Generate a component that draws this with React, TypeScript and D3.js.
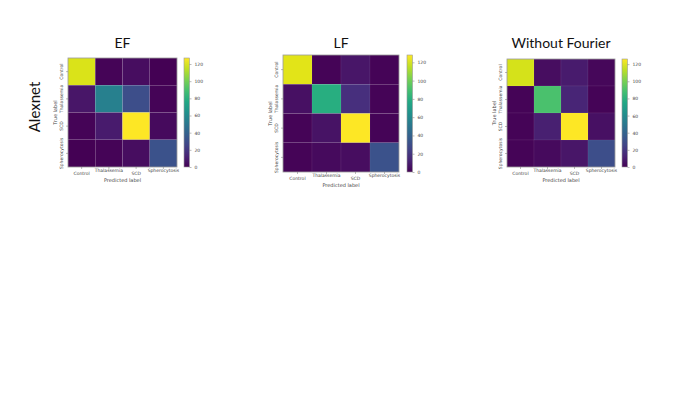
import React, { useEffect, useRef } from 'react';
import * as d3 from 'd3';

const classes = ['Control', 'Thalassemia', 'SCD', 'Spherocytosis'];
const panelTitles = ['EF', 'LF', 'Without Fourier'];
const rowLabel = 'Alexnet';
const colorbarTicks = [0, 20, 40, 60, 80, 100, 120];

// confusion matrices, rows = true label, cols = predicted label
const efMatrix = [
  [120, 1, 4, 0],
  [7, 55, 30, 1],
  [1, 9, 127, 3],
  [0, 1, 4, 32],
];
const lfMatrix = [
  [122, 1, 7, 1],
  [5, 80, 17, 1],
  [1, 6, 128, 1],
  [1, 3, 4, 32],
];
const woMatrix = [
  [118, 4, 9, 2],
  [1, 90, 13, 1],
  [1, 11, 126, 5],
  [1, 3, 7, 30],
];
const matrices = [efMatrix, lfMatrix, woMatrix];

// layout of each panel: heatmap box + colorbar
const panels = [
  { x: 68, y: 58, w: 109, h: 109, cbx: 184, titleY: 48 },
  { x: 283, y: 55, w: 116, h: 117, cbx: 407, titleY: 48 },
  { x: 507, y: 59, w: 108, h: 108, cbx: 622, titleY: 48 },
];

const App = () => {
  const svgRef = useRef<SVGSVGElement>(null);

  useEffect(() => {
    const svg = d3.select(svgRef.current);
    svg.selectAll('*').remove();
    const tickFont = 'DejaVu Sans, sans-serif';

    svg.append('text')
      .attr('transform', 'translate(40,107) rotate(-90)')
      .attr('text-anchor', 'middle')
      .attr('font-family', 'Lato, sans-serif')
      .attr('font-size', 15)
      .attr('fill', '#111')
      .text(rowLabel);

    panels.forEach((p, i) => {
      const m = matrices[i];
      const vmax = d3.max(m.flat()) as number;
      const color = d3.scaleSequential(d3.interpolateViridis).domain([0, vmax]);
      const xs = d3.scaleBand().domain(classes).range([p.x, p.x + p.w]);
      const ys = d3.scaleBand().domain(classes).range([p.y, p.y + p.h]);
      const g = svg.append('g');

      g.append('text')
        .attr('x', p.x + p.w / 2)
        .attr('y', p.titleY)
        .attr('text-anchor', 'middle')
        .attr('font-family', 'Lato, sans-serif')
        .attr('font-size', 14)
        .attr('fill', '#111')
        .text(panelTitles[i]);

      const cells = m.flatMap((row, r) => row.map((v, c) => ({ r, c, v })));
      g.selectAll('rect.cell')
        .data(cells)
        .enter().append('rect')
        .attr('class', 'cell')
        .attr('x', d => xs(classes[d.c])!)
        .attr('y', d => ys(classes[d.r])!)
        .attr('width', xs.bandwidth())
        .attr('height', ys.bandwidth())
        .attr('fill', d => color(d.v))
        .attr('stroke', 'rgba(255,255,255,0.1)')
        .attr('stroke-width', 0.6);

      g.append('rect')
        .attr('x', p.x).attr('y', p.y)
        .attr('width', p.w).attr('height', p.h)
        .attr('fill', 'none')
        .attr('stroke', '#9a9a9a')
        .attr('stroke-width', 0.8);

      // x tick labels
      const xAxis = g.append('g')
        .attr('transform', `translate(0,${p.y + p.h})`)
        .call(d3.axisBottom(xs).tickSize(2).tickPadding(2));
      xAxis.select('.domain').remove();
      xAxis.selectAll('line').attr('stroke', '#777').attr('stroke-width', 0.5);
      xAxis.selectAll('text')
        .attr('font-family', tickFont)
        .attr('font-size', 4.5)
        .attr('fill', '#444')
        .attr('dy', (_d, k) => (k % 2 === 1 ? '0.3em' : '0.9em'));

      // y tick labels (rotated)
      const yAxis = g.append('g')
        .attr('transform', `translate(${p.x},0)`)
        .call(d3.axisLeft(ys).tickSize(2).tickPadding(2));
      yAxis.select('.domain').remove();
      yAxis.selectAll('line').attr('stroke', '#777').attr('stroke-width', 0.5);
      yAxis.selectAll('text')
        .attr('font-family', tickFont)
        .attr('font-size', 4.5)
        .attr('fill', '#444')
        .attr('x', 0).attr('y', 0).attr('dy', 0)
        .attr('text-anchor', 'middle')
        .attr('transform', 'translate(-5,0) rotate(-90)');

      g.append('text')
        .attr('transform', `translate(${p.x - 11},${p.y + p.h / 2}) rotate(-90)`)
        .attr('text-anchor', 'middle')
        .attr('font-family', tickFont)
        .attr('font-size', 5)
        .attr('fill', '#444')
        .text('True label');

      g.append('text')
        .attr('x', p.x + p.w / 2)
        .attr('y', p.y + p.h + 14.5)
        .attr('text-anchor', 'middle')
        .attr('font-family', tickFont)
        .attr('font-size', 5)
        .attr('fill', '#444')
        .text('Predicted label');

      // colorbar
      const cbw = 5.5;
      const gradId = `cb-grad-${i}`;
      const grad = svg.append('defs').append('linearGradient')
        .attr('id', gradId)
        .attr('x1', 0).attr('y1', 1).attr('x2', 0).attr('y2', 0);
      d3.range(0, 1.0001, 0.1).forEach(t => {
        grad.append('stop')
          .attr('offset', `${t * 100}%`)
          .attr('stop-color', d3.interpolateViridis(t));
      });
      g.append('rect')
        .attr('x', p.cbx).attr('y', p.y)
        .attr('width', cbw).attr('height', p.h)
        .attr('fill', `url(#${gradId})`)
        .attr('stroke', '#9a9a9a')
        .attr('stroke-width', 0.6);
      const cs = d3.scaleLinear().domain([0, vmax]).range([p.y + p.h, p.y]);
      const cAxis = g.append('g')
        .attr('transform', `translate(${p.cbx + cbw},0)`)
        .call(d3.axisRight(cs).tickValues(colorbarTicks).tickSize(2).tickPadding(3));
      cAxis.select('.domain').remove();
      cAxis.selectAll('line').attr('stroke', '#777').attr('stroke-width', 0.5);
      cAxis.selectAll('text')
        .attr('font-family', tickFont)
        .attr('font-size', 4.5)
        .attr('fill', '#444');
    });
  }, []);

  return (
    <div style={{ position: 'absolute', left: 0, top: 0, width: 699, height: 394, background: '#fff' }}>
      <svg ref={svgRef} width={699} height={394}></svg>
    </div>
  );
};

export default App;
